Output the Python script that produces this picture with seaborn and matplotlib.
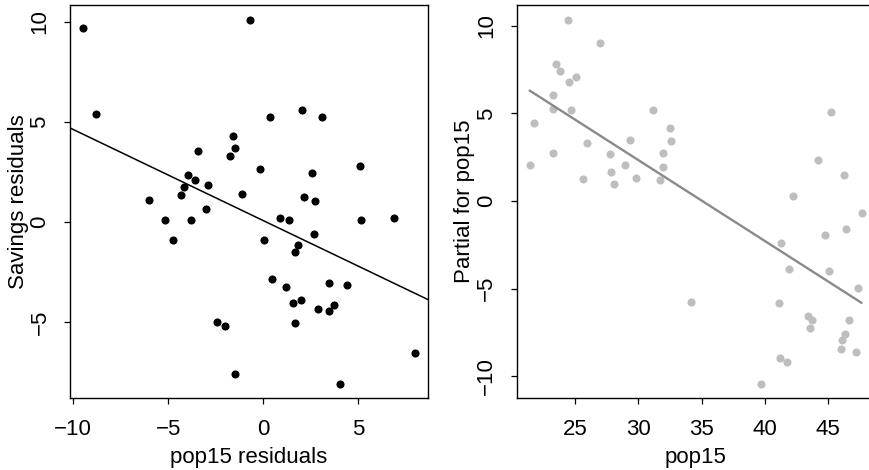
import numpy as np
import pandas as pd
import matplotlib
matplotlib.use("Agg")
import matplotlib.pyplot as plt
import seaborn as sns

# ---- Left panel: added-variable plot ----
pop15_resid = [-9.47, -0.68, -8.82, 2.05, 0.37, 3.11, -1.59, -1.49, -3.45, -1.75,
               5.07, -0.19, 2.55, -3.96, -3.59, -2.89, -4.19, -4.35, -1.11, 2.13,
               2.72, -6.03, -3.02, -5.16, -3.79, 0.86, 1.34, 5.16, 6.89, 2.67,
               0.05, 1.83, 1.68, 0.44, 1.19, 3.44, 4.42, 1.56, 1.97, 2.88,
               3.47, 3.74, 1.68, 8.00, 4.02, -4.75, -2.44, -2.03, -1.47]
savings_resid = [9.67, 10.08, 5.37, 5.59, 5.24, 5.24, 4.29, 3.68, 3.53, 3.28,
                 2.78, 2.63, 2.46, 2.33, 2.10, 1.85, 1.75, 1.35, 1.40, 1.23,
                 1.03, 1.11, 0.63, 0.12, 0.08, 0.21, 0.10, 0.10, 0.21, -0.58,
                 -0.90, -1.15, -1.48, -2.86, -3.24, -3.04, -3.16, -4.04, -3.88, -4.34,
                 -4.42, -4.12, -5.02, -6.52, -8.07, -0.91, -5.00, -5.17, -7.58]

# ---- Right panel: partial residual plot ----
pop15 = [24.42, 27.00, 23.48, 23.79, 25.05, 24.50, 23.29, 23.29, 24.68, 31.16,
         21.79, 32.52, 25.95, 29.37, 32.60, 23.26, 27.74, 31.92, 21.42, 28.95,
         31.95, 27.84, 25.61, 29.79, 31.71, 28.11, 45.24, 44.18, 46.26, 42.19,
         47.63, 46.37, 44.74, 41.26, 41.87, 45.03, 47.32, 34.16, 41.11, 43.39,
         43.71, 43.55, 46.63, 46.29, 46.10, 46.02, 47.18, 41.16, 41.74, 39.71]
partial_pop15 = [10.33, 9.00, 7.83, 7.42, 7.09, 6.81, 6.03, 5.23, 5.21, 5.19,
                 4.45, 4.15, 3.33, 3.50, 3.42, 2.76, 2.70, 2.74, 2.03, 2.03,
                 1.94, 1.65, 1.24, 1.31, 1.22, 0.95, 5.06, 2.32, 1.50, 0.27,
                 -0.68, -1.62, -1.94, -2.38, -3.86, -3.97, -4.94, -5.74, -5.82, -6.54,
                 -6.81, -7.23, -6.81, -7.61, -7.93, -8.42, -8.59, -8.96, -9.20, -10.42]

left_xticks = [-10, -5, 0, 5]
left_yticks = [-5, 0, 5, 10]
right_xticks = [25, 30, 35, 40, 45]
right_yticks = [-10, -5, 0, 5, 10]

df_av = pd.DataFrame({"x": pop15_resid, "y": savings_resid})
df_pr = pd.DataFrame({"x": pop15, "y": partial_pop15})

sns.set_theme(style="white")
plt.rcParams["font.family"] = ["Liberation Sans", "DejaVu Sans"]
plt.rcParams["axes.unicode_minus"] = True
for k in ("text.color", "axes.labelcolor", "xtick.color", "ytick.color",
          "xtick.labelcolor", "ytick.labelcolor"):
    plt.rcParams[k] = "black"

FS = 16
fig = plt.figure(figsize=(8.7, 4.7), dpi=100)
W, H = 870.0, 470.0
ax1 = fig.add_axes([70 / W, (H - 398) / H, 358 / W, 393 / H])
ax2 = fig.add_axes([516.7 / W, (H - 398.3) / H, 358.3 / W, 393.3 / H])

# Left
ax1.set_xlim(-10.17, 8.67)
ax1.set_ylim(-8.78, 10.83)
sns.regplot(data=df_av, x="x", y="y", ax=ax1, ci=None, truncate=False,
            scatter_kws=dict(color="black", s=34, linewidths=0, alpha=1),
            line_kws=dict(color="black", lw=1.1))
ax1.set_xlim(-10.17, 8.67)
ax1.set_ylim(-8.78, 10.83)
ax1.set_xticks(left_xticks)
ax1.set_yticks(left_yticks)
ax1.set_xlabel("pop15 residuals", fontsize=FS)
ax1.set_ylabel("Savings residuals", fontsize=FS)

# Right
ax2.set_xlim(20.4, 48.69)
ax2.set_ylim(-11.26, 11.18)
sns.regplot(data=df_pr, x="x", y="y", ax=ax2, ci=None, truncate=True,
            scatter_kws=dict(color="#bebebe", s=34, linewidths=0, alpha=1),
            line_kws=dict(color="#8a8a8a", lw=1.7))
ax2.set_xlim(20.4, 48.69)
ax2.set_ylim(-11.26, 11.18)
ax2.set_xticks(right_xticks)
ax2.set_yticks(right_yticks)
ax2.set_xlabel("pop15", fontsize=FS)
ax2.set_ylabel("Partial for pop15", fontsize=FS)

for ax in (ax1, ax2):
    for sp in ax.spines.values():
        sp.set_visible(True)
        sp.set_color("black")
        sp.set_linewidth(1.0)
    ax.tick_params(axis="both", which="major", direction="out", length=4,
                   width=0.9, color="black", labelcolor="black", labelsize=FS,
                   bottom=True, left=True)
    ax.tick_params(axis="x", pad=11)
    ax.tick_params(axis="y", pad=10, labelrotation=90)
    for t in ax.get_yticklabels():
        t.set_va("center")
    ax.xaxis.set_label_coords(0.5, -0.124)
    ax.yaxis.set_label_coords(-0.115, 0.5)

fig.savefig("out.png", dpi=100)
